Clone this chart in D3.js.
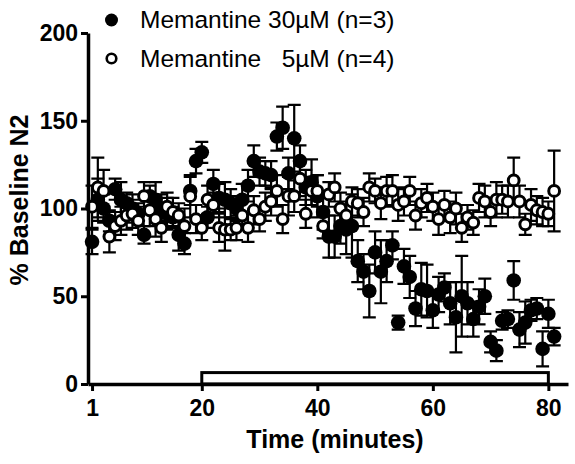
<!DOCTYPE html>
<html>
<head>
<meta charset="utf-8">
<script src="https://cdn.jsdelivr.net/npm/d3@7"></script>
<style>
  body { margin: 0; background: #fff; }
  svg { display: block; font-family: "Liberation Sans", Arial, sans-serif; }
</style>
</head>
<body>
<div id="chart"></div>
<script>
// minutes 1..81
const minutes = d3.range(1, 82);

const highMean = [
  81, 105, 100, 93, 111, 105, 103, 100, 97, 85,
  107, 105, 100, 97, 95, 85, 80, 110, 127, 132,
  95, 114, 106, 105, 103, 100, 105, 113, 127, 121,
  120, 119, 141, 146, 120, 140, 127, 112, 115, 107,
  98, 84, 84, 90, 88, 90, 70, 64, 53, 75,
  64, 70, 79, 35, 67, 61, 43, 54, 53, 42,
  51, 55, 46, 38, 50, 46, 37, 44, 50, 24,
  19, 36, 37, 59, 31, 35, 42, 43, 20, 40,
  27
];
const highErr = [
  7, 12, 8, 6, 6, 10, 6, 8, 6, 5,
  6, 10, 8, 9, 6, 9, 6, 8, 7, 6,
  6, 8, 8, 10, 8, 7, 9, 9, 9, 8,
  7, 8, 8, 12, 9, 19, 9, 10, 13, 12,
  10, 12, 12, 10, 14, 18, 12, 10, 15, 12,
  18, 12, 8, 4, 10, 12, 10, 15, 15, 10,
  10, 8, 12, 20, 23, 12, 10, 10, 10, 6,
  6, 5, 5, 11, 10, 12, 6, 6, 10, 8,
  5
];

const lowMean = [
  101, 112, 110, 84, 90, 93, 96, 97, 93, 107,
  99, 94, 89, 101, 98, 96, 90, 107, 94, 89,
  105, 102, 89, 88, 88, 89, 96, 89, 99, 94,
  101, 104, 110, 94, 107, 107, 117, 97, 110, 110,
  90, 108, 112, 100, 96, 104, 103, 98, 112, 110,
  103, 110, 110, 102, 104, 110, 96, 103, 106, 101,
  94, 102, 95, 100, 89, 95, 92, 106, 104, 98,
  105, 105, 104, 116, 104, 91, 102, 99, 98, 97,
  110
];
const lowErr = [
  12, 17, 12, 9, 8, 8, 8, 8, 8, 8,
  9, 10, 8, 8, 8, 7, 10, 12, 8, 7,
  8, 7, 8, 12, 6, 7, 8, 8, 8, 7,
  8, 8, 9, 8, 11, 9, 10, 8, 8, 9,
  7, 7, 8, 9, 8, 8, 8, 8, 8, 7,
  9, 8, 9, 9, 8, 8, 8, 8, 8, 8,
  9, 8, 9, 9, 8, 7, 7, 8, 9, 8,
  10, 8, 9, 13, 9, 6, 9, 8, 8, 7,
  23
];

const seriesNames = ['Memantine 30\u00b5M (n=3)', 'Memantine \u20075\u00b5M (n=4)'];
const xTicks = [1, 20, 40, 60, 80];
const yTicks = [0, 50, 100, 150, 200];
const treatment = [20, 80, 6.5];

const width = 575;
const height = 464;

const x = d3.scaleLinear().domain([0.3, 83.4]).range([88, 568]);
const y = d3.scaleLinear().domain([0, 200]).range([384, 33]);

const svg = d3.select('#chart')
              .append('svg')
              .attr('width', width)
              .attr('height', height);

const series = [
  { name: seriesNames[0], filled: true,
    pts: minutes.map((m, i) => ({ t: m, v: highMean[i], e: highErr[i] })) },
  { name: seriesNames[1], filled: false,
    pts: minutes.map((m, i) => ({ t: m, v: lowMean[i], e: lowErr[i] })) }
];

// error bars first, then markers
series.forEach(s => {
  const g = svg.append('g')
               .attr('stroke', '#000')
               .attr('stroke-width', 2.2)
               .attr('fill', 'none');
  g.selectAll('path')
   .data(s.pts)
   .enter()
   .append('path')
   .attr('d', d => {
      const xc = x(d.t), y1 = y(d.v + d.e), y2 = y(d.v - d.e);
      return `M${xc},${y1}V${y2}M${xc - 6.5},${y1}H${xc + 6.5}M${xc - 6.5},${y2}H${xc + 6.5}`;
   });
});

series.forEach(s => {
  svg.append('g')
     .selectAll('circle')
     .data(s.pts)
     .enter()
     .append('circle')
     .attr('cx', d => x(d.t))
     .attr('cy', d => y(d.v))
     .attr('r', s.filled ? 7.3 : 5.4)
     .attr('fill', s.filled ? '#000' : '#fff')
     .attr('stroke', '#000')
     .attr('stroke-width', s.filled ? 0 : 3);
});

// treatment bar
svg.append('rect')
   .attr('x', x(treatment[0]))
   .attr('y', y(treatment[2]))
   .attr('width', x(treatment[1]) - x(treatment[0]))
   .attr('height', y(0) - y(treatment[2]))
   .attr('fill', '#fff')
   .attr('stroke', '#000')
   .attr('stroke-width', 3);

// axes
const yAxis = svg.append('g')
   .attr('transform', `translate(${x(0.3)},0)`)
   .call(d3.axisLeft(y).tickValues(yTicks).tickSize(7).tickSizeOuter(0).tickPadding(3));

const xAxis = svg.append('g')
   .attr('transform', `translate(0,${y(0)})`)
   .call(d3.axisBottom(x).tickValues(xTicks).tickSize(7).tickSizeOuter(0).tickPadding(9));

[yAxis, xAxis].forEach(a => {
  a.select('.domain').attr('stroke-width', 3.5);
  a.selectAll('.tick line').attr('stroke-width', 3);
  a.selectAll('.tick text')
   .style('font-size', '23px')
   .style('font-weight', 'bold')
   .style('font-family', '"Liberation Sans", Arial, sans-serif')
   .attr('fill', '#000');
});

svg.append('text')
   .attr('transform', 'translate(28,200) rotate(-90)')
   .attr('text-anchor', 'middle')
   .style('font-size', '25px')
   .style('font-weight', 'bold')
   .text('% Baseline N2');

svg.append('text')
   .attr('x', 335)
   .attr('y', 448)
   .attr('text-anchor', 'middle')
   .style('font-size', '25px')
   .style('font-weight', 'bold')
   .text('Time (minutes)');

// legend
const legend = svg.append('g');
series.forEach((s, i) => {
  const ly = 20 + i * 38.5;
  legend.append('circle')
        .attr('cx', 111.5)
        .attr('cy', ly)
        .attr('r', s.filled ? 6.5 : 4.8)
        .attr('fill', s.filled ? '#000' : '#fff')
        .attr('stroke', '#000')
        .attr('stroke-width', s.filled ? 0 : 2.6);
  legend.append('text')
        .attr('x', 140)
        .attr('y', ly + 8)
        .style('font-size', '24.5px')
        .text(s.name);
});
</script>
</body>
</html>
